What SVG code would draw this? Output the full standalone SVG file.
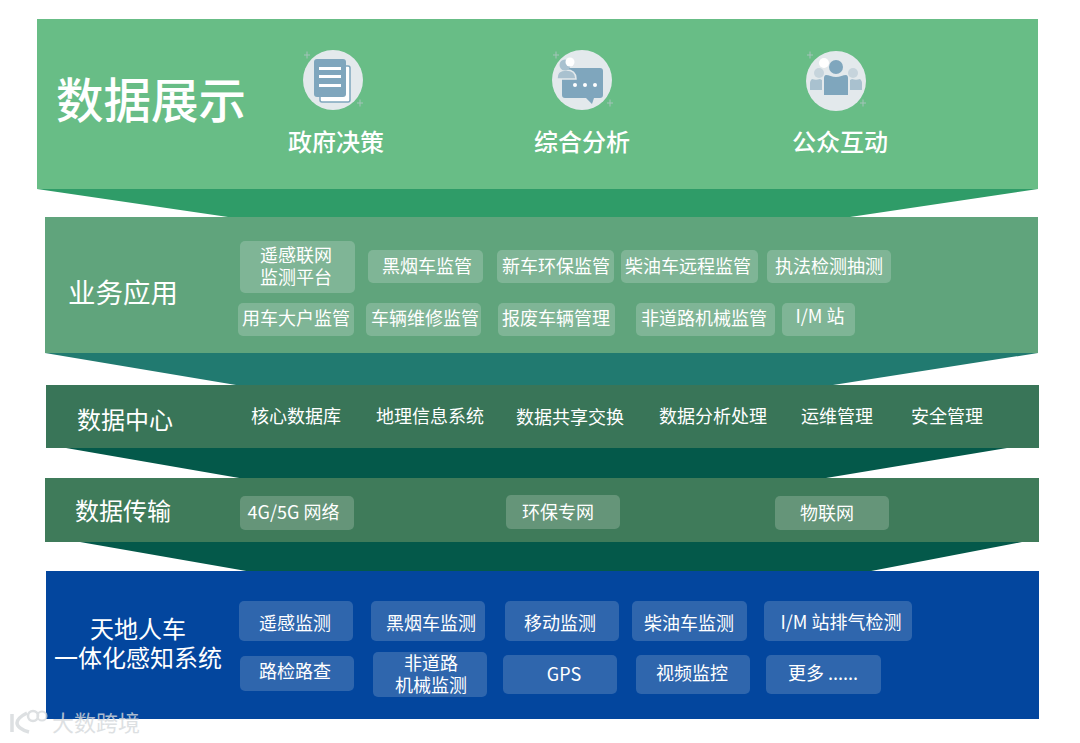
<svg xmlns="http://www.w3.org/2000/svg" width="1080" height="743" viewBox="0 0 1080 743">
<style>
text{font-family:"Noto Sans CJK SC","Noto Sans",sans-serif;fill:#fff;text-anchor:middle}
.t{font-size:18px}
.h{font-size:24px}
.s{font-size:24px;font-weight:500}
.c1{fill:#7fb596}
.c2{fill:#659579}
.c3{fill:#2f66ad}
.dk{fill:#7fa6bd}
.md{fill:#a9c1cf}
.lt{fill:#c6d4dc}
.bg{fill:#e3e9ec}
.sp{fill:#a3c4b9}
</style>
<rect width="1080" height="743" fill="#fff"/>
<g id="connectors">
<polygon points="37,189 1038,189 850,217 228,217" fill="#2f9c68"/>
<polygon points="45,353 1038,353 833,385 236,385" fill="#217a70"/>
<polygon points="66,448 1007,448 820,479 245,479" fill="#04594a"/>
<polygon points="80,542 1022,542 866,572 252,572" fill="#04594a"/>
</g>
<g id="layer-display">
<rect x="37" y="19" width="1001" height="170" fill="#68bd86"/>
<text x="151" y="118" font-size="47.500" style="font-weight:500">数据展示</text>
<g id="icon-gov">
<circle cx="333" cy="80" r="30" class="bg"/>
<rect x="320" y="66" width="30" height="36" rx="2" fill="#fff" stroke="#7fa6bd" stroke-width="1.500"/>
<rect x="314" y="59" width="32" height="38" rx="3" class="dk"/>
<rect x="319" y="67" width="22" height="3" fill="#fff"/>
<rect x="319" y="75" width="22" height="3" fill="#fff"/>
<rect x="319" y="84" width="22" height="3" fill="#fff"/>
<path d="M304 54.500h2.500v-3h1v3h2.500v1h-2.500v3h-1v-3h-2.500zM357 102.500h2.500v-3h1v3h2.500v1h-2.500v3h-1v-3h-2.500z" class="sp"/>
</g>
<g id="icon-analysis">
<circle cx="582" cy="80" r="30" class="bg"/>
<path d="M565 68h35a3 3 0 0 1 3 3v24a3 3 0 0 1-3 3h-6l-2 6-6-6h-21a3 3 0 0 1-3-3v-24a3 3 0 0 1 3-3z" class="dk"/>
<path d="M557 79c0-7 3-9 9-9s10 2 10 9z" class="md" stroke="#e3e9ec" stroke-width="1.500"/>
<circle cx="565" cy="65" r="5.500" class="md"/>
<circle cx="570" cy="62" r="4.500" fill="#fff"/>
<circle cx="575" cy="85" r="2" fill="#fff"/><circle cx="585" cy="85" r="2" fill="#fff"/><circle cx="595" cy="85" r="2" fill="#fff"/>
<path d="M553 54.500h2.500v-3h1v3h2.500v1h-2.500v3h-1v-3h-2.500zM607 102.500h2.500v-3h1v3h2.500v1h-2.500v3h-1v-3h-2.500z" class="sp"/>
</g>
<g id="icon-public">
<circle cx="836" cy="81" r="30" class="bg"/>
<circle cx="819" cy="73" r="5" class="lt"/>
<path d="M812 79c3 1 5 1 8 0l2 1v10h-12v-7c0-2 1-3 2-4z" class="md"/>
<circle cx="853" cy="73" r="5" class="lt"/>
<path d="M852 79c3 1 5 1 8 0 1 1 2 2 2 4v7h-12V80z" class="md"/>
<circle cx="836" cy="67" r="7" class="dk"/>
<path d="M826 75c3 0 6 2 10 2s7-2 10-2c1 0 2 1 2 3v17h-24V78c0-2 1-3 2-3z" class="dk"/>
<circle cx="824" cy="63" r="5" fill="#fff"/>
<path d="M807 54.500h2.500v-3h1v3h2.500v1h-2.500v3h-1v-3h-2.500zM860 102.500h2.500v-3h1v3h2.500v1h-2.500v3h-1v-3h-2.500z" class="sp"/>
</g>
<text x="336" y="151" class="s">政府决策</text>
<text x="582" y="151" class="s">综合分析</text>
<text x="840" y="151" class="s">公众互动</text>
</g>
<g id="layer-business">
<rect x="45" y="217" width="993" height="136" fill="#60a47c"/>
<text x="123" y="303" font-size="27.500">业务应用</text>
<g class="c1">
<rect x="240" y="241" width="115" height="52" rx="5"/>
<rect x="368" y="250" width="115" height="33" rx="5"/>
<rect x="497" y="250" width="117" height="33" rx="5"/>
<rect x="621" y="250" width="137" height="33" rx="5"/>
<rect x="767" y="250" width="124" height="33" rx="5"/>
<rect x="238" y="303" width="116" height="33" rx="5"/>
<rect x="366" y="303" width="115" height="33" rx="5"/>
<rect x="498" y="303" width="117" height="33" rx="5"/>
<rect x="636" y="303" width="139" height="33" rx="5"/>
<rect x="782" y="303" width="73" height="33" rx="5"/>
</g>
<text x="296" y="262" class="t">遥感联网<tspan x="296" dy="22">监测平台</tspan></text>
<text x="427" y="273" class="t">黑烟车监管</text>
<text x="556" y="273" class="t">新车环保监管</text>
<text x="688" y="273" class="t">柴油车远程监管</text>
<text x="829" y="273" class="t">执法检测抽测</text>
<text x="296" y="325" class="t">用车大户监管</text>
<text x="425" y="325" class="t">车辆维修监管</text>
<text x="556" y="325" class="t">报废车辆管理</text>
<text x="704" y="325" class="t">非道路机械监管</text>
<text x="820" y="323" class="t">I/M 站</text>
</g>
<g id="layer-datacenter">
<rect x="46" y="385" width="993" height="63" fill="#397558"/>
<text x="125" y="429" class="h">数据中心</text>
<text x="296" y="423" class="t">核心数据库</text>
<text x="430" y="423" class="t">地理信息系统</text>
<text x="570" y="424" class="t">数据共享交换</text>
<text x="713" y="423" class="t">数据分析处理</text>
<text x="837" y="423" class="t">运维管理</text>
<text x="947" y="423" class="t">安全管理</text>
</g>
<g id="layer-transfer">
<rect x="45" y="478" width="994" height="64" fill="#3f7b5a"/>
<text x="123" y="520" class="h">数据传输</text>
<g class="c2">
<rect x="240" y="496" width="114" height="34" rx="5"/>
<rect x="506" y="495" width="114" height="34" rx="5"/>
<rect x="775" y="496" width="114" height="34" rx="5"/>
</g>
<text x="293.500" y="519" class="t">4G/5G 网络</text>
<text x="558" y="519" class="t">环保专网</text>
<text x="827" y="520" class="t">物联网</text>
</g>
<g id="layer-sensing">
<rect x="46" y="571" width="993" height="148" fill="#03469e"/>
<text x="138" y="638" class="h">天地人车<tspan x="138" dy="29">一体化感知系统</tspan></text>
<g class="c3">
<rect x="239" y="601" width="114" height="40" rx="5"/>
<rect x="371" y="601" width="114" height="40" rx="5"/>
<rect x="505" y="601" width="114" height="40" rx="5"/>
<rect x="632" y="601" width="115" height="40" rx="5"/>
<rect x="764" y="601" width="148" height="40" rx="5"/>
<rect x="240" y="656" width="114" height="35" rx="5"/>
<rect x="373" y="652" width="114" height="45" rx="5"/>
<rect x="503" y="655" width="114" height="39" rx="5"/>
<rect x="636" y="655" width="114" height="39" rx="5"/>
<rect x="766" y="655" width="115" height="39" rx="5"/>
</g>
<text x="295" y="630" class="t">遥感监测</text>
<text x="431" y="630" class="t">黑烟车监测</text>
<text x="560" y="630" class="t">移动监测</text>
<text x="689" y="630" class="t">柴油车监测</text>
<text x="841" y="629" class="t">I/M 站排气检测</text>
<text x="295" y="678" class="t">路检路查</text>
<text x="431" y="670" class="t">非道路<tspan x="431" dy="22">机械监测</tspan></text>
<text x="564" y="681" class="t">GPS</text>
<text x="692" y="680" class="t">视频监控</text>
<text x="823" y="680" class="t">更多 ......</text>
</g>
<g id="watermark" opacity="0.8">
<path d="M12 714v18M27 713c-8 4-10 8-10 10 0 3 4 7 12 9" fill="none" stroke="#d5d9dc" stroke-width="3.500"/>
<circle cx="33" cy="716" r="5" fill="none" stroke="#d5d9dc" stroke-width="2.500"/>
<circle cx="42" cy="716" r="4.500" fill="none" stroke="#d5d9dc" stroke-width="2"/>
<text x="96" y="731" font-size="22" style="fill:#d5d9dc">大数跨境</text>
</g>
</svg>
